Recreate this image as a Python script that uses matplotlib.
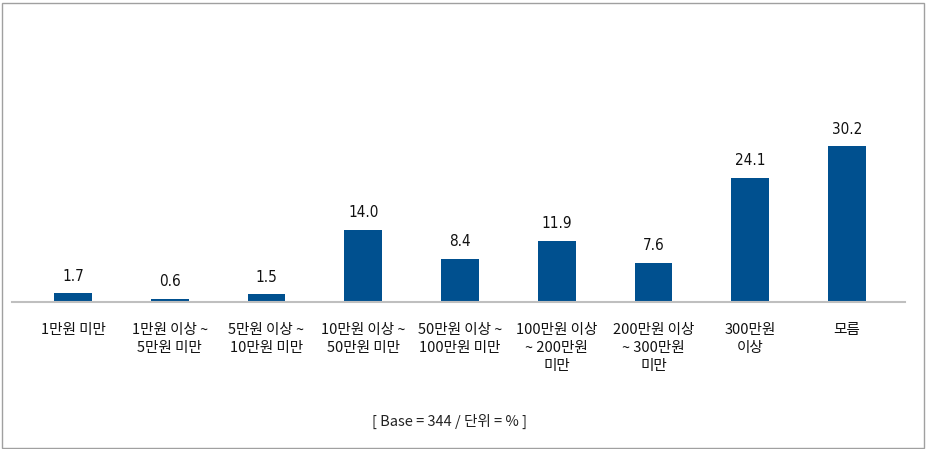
import matplotlib.pyplot as plt
from matplotlib.patches import Rectangle

plt.rcParams['font.family'] = ['Noto Sans CJK KR', 'DejaVu Sans']

categories = [
    "1만원 미만",
    "1만원 이상 ~\n5만원 미만",
    "5만원 이상 ~\n10만원 미만",
    "10만원 이상 ~\n50만원 미만",
    "50만원 이상 ~\n100만원 미만",
    "100만원 이상\n~ 200만원\n미만",
    "200만원 이상\n~ 300만원\n미만",
    "300만원\n이상",
    "모름",
]
values = [1.7, 0.6, 1.5, 14.0, 8.4, 11.9, 7.6, 24.1, 30.2]
footer = "[ Base = 344 / 단위 = % ]"

bar_color = "#00508F"

fig = plt.figure(figsize=(9.26, 4.49), dpi=100)
W, H = 926, 449
# axes: x 12..905 px, baseline at y=302 px, top at y=96 px
ax = fig.add_axes([12 / W, 1 - 302 / H, (905 - 12) / W, (302 - 96) / H])

x = list(range(len(values)))
ax.bar(x, values, width=0.39, color=bar_color, zorder=2)
for xi, v in zip(x, values):
    ax.annotate(f"{v:.1f}", (xi, v), xytext=(0, 7), textcoords="offset points",
                ha="center", va="bottom", fontsize=11, color="#111111",
                family=["DejaVu Sans"], fontstretch="condensed")

ax.set_xlim(-0.63, 8.6)
ax.set_ylim(0, 40)
ax.set_xticks(x)
ax.set_xticklabels(categories, fontsize=10.5, linespacing=1.35, va="top",
                   color="#111111")
ax.tick_params(axis="x", length=0, pad=15)
ax.set_yticks([])
for s in ["top", "right", "left"]:
    ax.spines[s].set_visible(False)
ax.spines["bottom"].set_color("#BFBFBF")
ax.spines["bottom"].set_linewidth(1.5)

fig.text(450 / W, 1 - 421 / H, footer, ha="center", va="center", fontsize=10.5, color="#222222")

# outer border
fig.patches.append(Rectangle((1.5 / W, 1.5 / H), (W - 4) / W, (H - 4) / H,
                             transform=fig.transFigure, fill=False,
                             edgecolor="#A0A0A0", linewidth=1))

fig.savefig("out.png", dpi=100)
